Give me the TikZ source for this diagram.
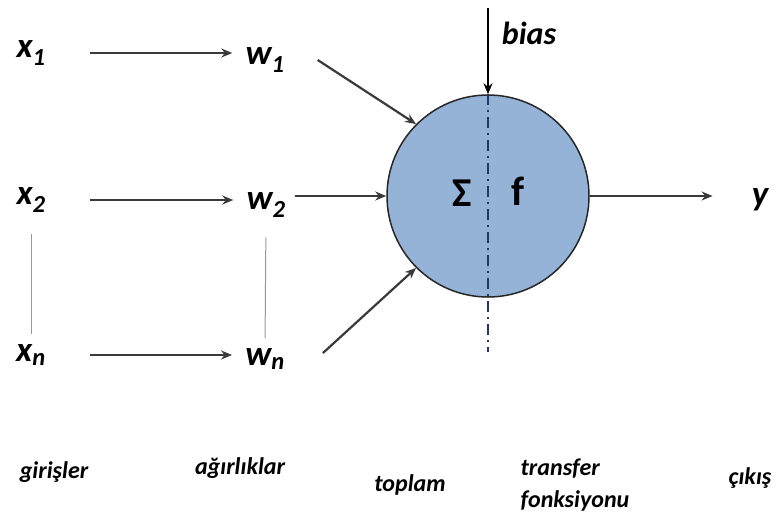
\documentclass[tikz,border=0pt]{standalone}
\usepackage{fontspec}
\setmainfont{Carlito}
\usetikzlibrary{arrows.meta}
\definecolor{neuronblue}{RGB}{149,179,215}
\definecolor{linegray}{RGB}{58,58,58}
\definecolor{axisblue}{RGB}{31,56,100}
\begin{document}
\begin{tikzpicture}[x=1pt, y=-1pt,
	var/.style={font=\fontsize{35}{40}\selectfont\bfseries\itshape, inner sep=0pt},
	caption/.style={font=\fontsize{24}{32}\selectfont\bfseries\itshape, inner sep=0pt, align=left},
	op/.style={font=\fontsize{41}{44}\selectfont\bfseries, inner sep=0pt},
	neuron/.style={circle, draw=black!85, line width=1.5pt, fill=neuronblue, minimum size=202pt, inner sep=0pt},
	arr/.style={-{Stealth[length=11pt, width=9pt]}, line width=2.2pt, draw=linegray},
	guide/.style={line width=1pt, draw=gray!80},
	axis/.style={line width=1.4pt, draw=axisblue, dash pattern=on 11pt off 5pt on 2pt off 5pt}]

		\useasboundingbox (0,0) rectangle (776,523);

		% inputs and weights
		\node[var] (x1) at (31,53) {x\textsubscript{1}};
		\node[var] (x2) at (31,200) {x\textsubscript{2}};
		\node[var] (xn) at (31,355) {x\textsubscript{n}};
		\node[var] (w1) at (265,60) {w\textsubscript{1}};
		\node[var] (w2) at (266,205) {w\textsubscript{2}};
		\node[var] (wn) at (265,359) {w\textsubscript{n}};

		% neuron
		\node[neuron] (n) at (488,196) {};
		\coordinate (biastop) at (488,8);
		\coordinate (axisend) at (488,352);
		\draw[axis] (n.north) -- (axisend);
		\node[op] (sum) at (462,193) {Σ};
		\node[op] (fn) at (518,191) {f};
		\node[var, font=\fontsize{32}{36}\selectfont\bfseries\itshape] (bias) at (529,33) {bias};
		\node[var] (y) at (760,200) {y};

		\draw[arr, shorten <=44pt, shorten >=13pt] (x1.east) -- (x1.east -| w1.west);
		\draw[arr, shorten <=44pt, shorten >=13pt] (x2.east) -- (x2.east -| w2.west);
		\draw[arr, shorten <=44pt, shorten >=13pt] (xn.east) -- (xn.east -| wn.west);
		\draw[guide, shorten <=22pt, shorten >=10pt] (x2.south) -- (xn.north);
		\draw[guide, shorten <=20pt, shorten >=10pt] (w2.south) -- (wn.north);

		\draw[arr] ([xshift=33pt]w1.east) -- (n.135);
		\draw[arr, shorten <=9pt] (w2.east |- n.west) -- (n.west);
		\draw[arr] ([xshift=38pt, yshift=6pt]wn.east) -- (n.225);
		\draw[arr, draw=black, line width=1.8pt] (biastop) -- (n.north);
		\draw[arr, shorten >=39pt] (n.east) -- (n.east -| y.west);

		% captions
		\node[caption] (inputs) at (54,472) {girişler};
		\node[caption] (weights) at (240,468) {ağırlıklar};
		\node[caption] (sumcap) at (410,485) {toplam};
		\node[caption] (transfer) at (575,485) {transfer\\fonksiyonu};
		\node[caption] (output) at (750,478) {çıkış};
	\end{tikzpicture}
\end{document}
